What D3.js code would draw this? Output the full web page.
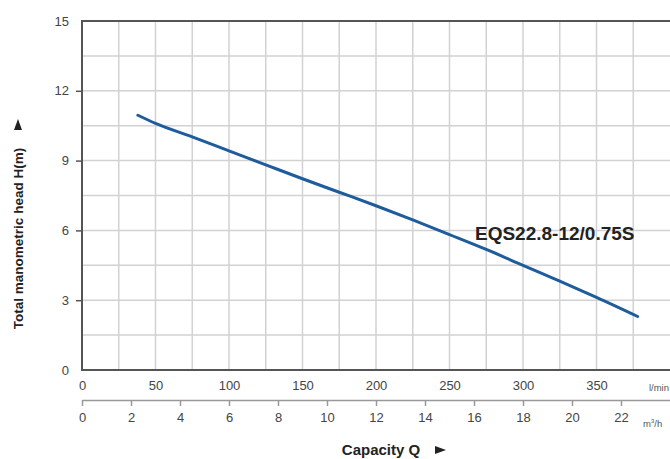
<!DOCTYPE html>
<html><head><meta charset="utf-8">
<script src="https://cdn.jsdelivr.net/npm/d3@7"></script>
<style>
html,body{margin:0;padding:0;background:#fff;}
svg{display:block;font-family:"Liberation Sans",Arial,sans-serif;}
</style></head>
<body>
<svg id="c" width="670" height="459"></svg>
<script>
// ---- data ----
const flowLmin = [38, 50, 75, 100, 125, 150, 175, 200, 225, 250, 275, 300, 325, 350, 378];
const headM    = [10.95, 10.6, 10.02, 9.42, 8.82, 8.22, 7.64, 7.06, 6.45, 5.82, 5.18, 4.5, 3.82, 3.12, 2.3];
const seriesName = "EQS22.8-12/0.75S";
const yTicks = [0, 3, 6, 9, 12, 15];
const lminTicks = [0, 50, 100, 150, 200, 250, 300, 350];
const m3hTicks = [0, 2, 4, 6, 8, 10, 12, 14, 16, 18, 20, 22];
const yTitle = "Total manometric head H(m)";
const xTitle = "Capacity Q";

// ---- layout ----
const svg = d3.select("#c");
const L = 82, R = 670, T = 21, B = 370;
const x = d3.scaleLinear().domain([0, 400]).range([L, R]);
const xm = d3.scaleLinear().domain([0, 24]).range([L, R]);
const y = d3.scaleLinear().domain([0, 15]).range([B, T]);

// grid
const g = svg.append("g");
g.selectAll("line.v").data(d3.range(25, 400, 25)).join("line")
  .attr("x1", d => x(d)).attr("x2", d => x(d)).attr("y1", T).attr("y2", B)
  .attr("stroke", "#d2d2d2").attr("stroke-width", 1.5);
g.selectAll("line.h").data(d3.range(1.5, 15, 1.5)).join("line")
  .attr("x1", L).attr("x2", R).attr("y1", d => y(d)).attr("y2", d => y(d))
  .attr("stroke", "#d2d2d2").attr("stroke-width", 1.5);

// frame
svg.append("path").attr("d", `M${R},${T}H${L}V${B}H${R}`)
  .attr("fill", "none").attr("stroke", "#555").attr("stroke-width", 2);

// y axis
const ya = svg.append("g").attr("transform", `translate(${L},0)`)
  .call(d3.axisLeft(y).tickValues(yTicks).tickSize(6).tickPadding(7));
ya.select(".domain").remove();
ya.selectAll(".tick line").attr("stroke", "#555").attr("stroke-width", 1.5);
ya.selectAll(".tick text").attr("fill", "#444").style("font-size", "13px")
  .style("font-family", "'Liberation Sans',Arial,sans-serif");
ya.selectAll(".tick").filter(d => d === 15 || d === 0).select("line").remove();

// upper x axis (l/min)
const xa = svg.append("g").attr("transform", `translate(0,${B})`)
  .call(d3.axisBottom(x).tickValues(lminTicks).tickSize(0).tickPadding(11));
xa.select(".domain").remove();
xa.selectAll(".tick text").attr("fill", "#444").style("font-size", "13px")
  .style("font-family", "'Liberation Sans',Arial,sans-serif");
svg.append("text").attr("x", 669).attr("y", 391).attr("text-anchor", "end")
  .attr("fill", "#555").style("font-size", "9.5px").text("l/min");

// lower x axis (m3/h)
const xb = svg.append("g").attr("transform", `translate(0,400)`)
  .call(d3.axisBottom(xm).tickValues(m3hTicks).tickSize(6).tickSizeOuter(0).tickPadding(7));
xb.select(".domain").attr("stroke", "#999").attr("stroke-width", 1.5);
xb.selectAll(".tick line").attr("stroke", "#999").attr("stroke-width", 1.5);
xb.selectAll(".tick text").attr("fill", "#444").style("font-size", "13px")
  .style("font-family", "'Liberation Sans',Arial,sans-serif");
const m3 = svg.append("text").attr("x", 643).attr("y", 427)
  .attr("fill", "#555").style("font-size", "9.5px");
m3.append("tspan").text("m");
m3.append("tspan").attr("dy", -4).style("font-size", "6px").text("3");
m3.append("tspan").attr("dy", 4).text("/h");

// curve
const pts = flowLmin.map((q, i) => [q, headM[i]]);
svg.append("path").datum(pts)
  .attr("d", d3.line().x(d => x(d[0])).y(d => y(d[1])).curve(d3.curveMonotoneX))
  .attr("fill", "none").attr("stroke", "#1f5c9c").attr("stroke-width", 3)
  .attr("stroke-linecap", "round");

// series label
svg.append("text").attr("x", 475).attr("y", 240)
  .attr("fill", "#222").style("font-size", "19px").style("font-weight", "bold")
  .text(seriesName);

// y title
svg.append("text").attr("transform", "translate(23,238.5) rotate(-90)")
  .attr("text-anchor", "middle").attr("fill", "#222")
  .style("font-size", "13.5px").style("font-weight", "bold").text(yTitle);
svg.append("path").attr("d", "M18,119L22,130H14Z").attr("fill", "#222");

// x title
svg.append("text").attr("x", 381).attr("y", 455)
  .attr("text-anchor", "middle").attr("fill", "#222")
  .style("font-size", "15px").style("font-weight", "bold").text(xTitle);
svg.append("path").attr("d", "M435,446L446,450L435,454Z").attr("fill", "#222");
</script>
</body></html>
